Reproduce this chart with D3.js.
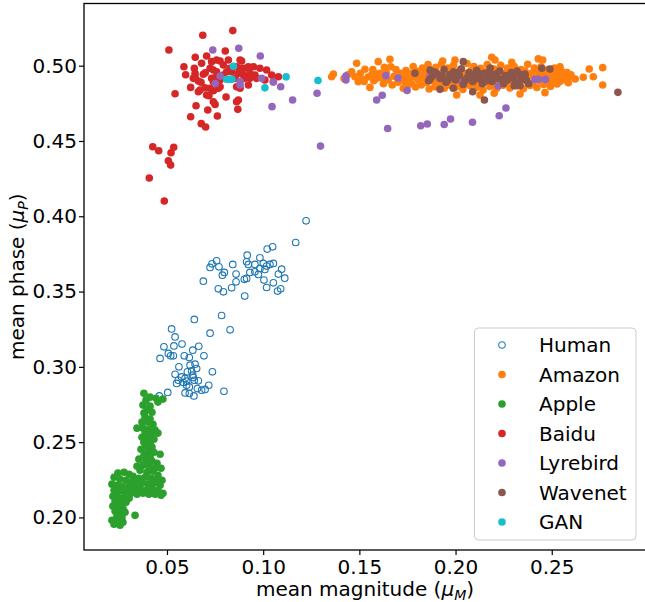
<!DOCTYPE html>
<html lang="en">
<head>
  <meta charset="UTF-8">
  <title>mean phase vs mean magnitude</title>
  <script src="https://cdn.jsdelivr.net/npm/d3@7"></script>
  <style>
    body {
      margin: 0;
      padding: 0;
      background: #fff;
    }
    svg text {
      font-family: "DejaVu Sans", sans-serif;
    }
  </style>
</head>
<body>
  <div id="chart"></div>

  <script>
    // values, [mean magnitude, mean phase]
    const human = [
      [0.1223,0.3970],[0.1169,0.3826],[0.1021,0.3782],[0.1049,0.3797],[0.0917,0.3742],[0.0983,0.3724],
      [0.0758,0.3704],[0.0734,0.3684],[0.0724,0.3660],[0.0770,0.3664],[0.0842,0.3680],[0.0914,0.3698],
      [0.0923,0.3680],[0.0957,0.3680],[0.1001,0.3687],[0.1018,0.3669],[0.1035,0.3680],[0.1053,0.3687],
      [0.0983,0.3654],[0.1009,0.3647],[0.1096,0.3649],[0.1079,0.3616],[0.0798,0.3627],[0.0788,0.3609],
      [0.0859,0.3616],[0.0931,0.3627],[0.0957,0.3631],[0.0975,0.3614],[0.0914,0.3587],[0.0902,0.3581],
      [0.1112,0.3589],[0.0689,0.3569],[0.0859,0.3565],[0.1004,0.3576],[0.1053,0.3558],[0.0767,0.3518],
      [0.0793,0.3498],[0.0836,0.3525],[0.1018,0.3527],[0.1075,0.3503],[0.1091,0.3518],[0.0904,0.3470],
      [0.0642,0.3315],[0.0784,0.3341],[0.0828,0.3246],[0.0724,0.3224],[0.0524,0.3252],[0.0542,0.3199],
      [0.0484,0.3133],[0.0536,0.3139],[0.0578,0.3151],[0.0634,0.3111],[0.0665,0.3137],[0.0507,0.3089],
      [0.0519,0.3073],[0.0533,0.3073],[0.0464,0.3056],[0.0590,0.3073],[0.0616,0.3062],[0.0692,0.3073],
      [0.0562,0.3000],[0.0620,0.3011],[0.0646,0.3018],[0.0654,0.2989],[0.0606,0.2967],[0.0628,0.2973],
      [0.0634,0.2945],[0.0542,0.2951],[0.0736,0.2967],[0.0576,0.2933],[0.0594,0.2923],[0.0602,0.2905],
      [0.0585,0.2896],[0.0559,0.2911],[0.0550,0.2890],[0.0637,0.2929],[0.0642,0.2911],[0.0663,0.2907],
      [0.0602,0.2878],[0.0616,0.2867],[0.0658,0.2856],[0.0680,0.2845],[0.0698,0.2850],[0.0717,0.2878],
      [0.0796,0.2838],[0.0594,0.2827],[0.0616,0.2823],[0.0640,0.2807],[0.0504,0.2830],[0.0460,0.2807]
    ];

    const amazon = [
      [0.1365,0.4945],[0.1356,0.4927],[0.1486,0.5016],[0.1598,0.5027],[0.1659,0.5043],[0.1664,0.4993],
      [0.1529,0.4976],[0.1460,0.4960],[0.1477,0.4927],[0.1494,0.4894],[0.1512,0.4910],[0.1555,0.4856],
      [0.1564,0.4938],[0.1590,0.4916],[0.1607,0.4950],[0.1671,0.4872],[0.1728,0.4850],[0.1933,0.5031],
      [0.1997,0.5038],[0.2188,0.5056],[0.2205,0.5038],[0.2292,0.5023],[0.2430,0.5045],[0.2453,0.5038],
      [0.2543,0.4993],[0.2574,0.4953],[0.2586,0.4887],[0.2622,0.4912],[0.2664,0.4923],[0.2695,0.4978],
      [0.2716,0.4927],[0.2765,0.4987],[0.2765,0.4872],[0.2006,0.4805],[0.2335,0.4812],[0.2465,0.4821],
      [0.2201,0.4817],[0.2127,0.4805],
      [0.1420,0.4915],[0.1440,0.4940],[0.1505,0.4950],[0.1525,0.4895],[0.1545,0.4925],[0.1575,0.4900],
      [0.1585,0.4945],[0.1615,0.4920],[0.1625,0.4880],[0.1640,0.4955],[0.1650,0.4905],[0.1680,0.4930],
      [0.1690,0.4975],[0.1700,0.4890],[0.1715,0.4950],[0.1630,0.4990],[0.1570,0.4975],
      [0.1730,0.4935],[0.1735,0.4895],[0.1742,0.4968],[0.1748,0.4862],[0.1755,0.4918],
      [0.1765,0.4948],[0.1772,0.4880],[0.1780,0.4995],[0.1786,0.4925],[0.1792,0.4858],
      [0.1801,0.4962],[0.1808,0.4903],[0.1815,0.4940],[0.1822,0.4872],[0.1828,0.4985],
      [0.1836,0.4920],[0.1843,0.4953],[0.1850,0.4888],[0.1857,0.5008],[0.1863,0.4845],
      [0.1871,0.4935],[0.1878,0.4970],[0.1885,0.4898],[0.1892,0.4860],[0.1898,0.4990],
      [0.1906,0.4915],[0.1913,0.4948],[0.1920,0.4878],[0.1927,0.5012],[0.1933,0.4930],
      [0.1941,0.4850],[0.1948,0.4965],[0.1955,0.4905],[0.1962,0.4985],[0.1968,0.4872],
      [0.1976,0.4940],[0.1983,0.4895],[0.1990,0.5005],[0.1997,0.4925],[0.2003,0.4858],
      [0.2011,0.4958],[0.2018,0.4885],[0.2025,0.4975],[0.2032,0.4918],[0.2038,0.4842],
      [0.2046,0.4950],[0.2053,0.4900],[0.2060,0.5015],[0.2067,0.4932],[0.2073,0.4868],
      [0.2081,0.4968],[0.2088,0.4890],[0.2095,0.4995],[0.2102,0.4922],[0.2108,0.4855],
      [0.2116,0.4945],[0.2123,0.4878],[0.2130,0.4982],[0.2137,0.4910],[0.2143,0.4838],
      [0.2151,0.4960],[0.2158,0.4895],[0.2165,0.5008],[0.2172,0.4930],[0.2178,0.4862],
      [0.2186,0.4950],[0.2193,0.4882],[0.2200,0.4978],[0.2207,0.4915],[0.2213,0.4848],
      [0.2221,0.4962],[0.2228,0.4900],[0.2235,0.5002],[0.2242,0.4935],[0.2248,0.4870],
      [0.2256,0.4948],[0.2263,0.4888],[0.2270,0.4985],[0.2277,0.4920],[0.2283,0.4852],
      [0.2291,0.4958],[0.2298,0.4895],[0.2305,0.4995],[0.2312,0.4928],[0.2318,0.4865],
      [0.2326,0.4942],[0.2333,0.4880],[0.2340,0.4975],[0.2347,0.4912],[0.2353,0.4848],
      [0.2361,0.4965],[0.2368,0.4898],[0.2375,0.5010],[0.2382,0.4932],[0.2388,0.4868],
      [0.2396,0.4950],[0.2403,0.4885],[0.2410,0.4985],[0.2417,0.4918],[0.2423,0.4855],
      [0.2431,0.4960],[0.2438,0.4902],[0.2445,0.4992],[0.2452,0.4935],[0.2458,0.4875],
      [0.2466,0.4945],[0.2473,0.4890],[0.2480,0.4975],[0.2487,0.4920],[0.2493,0.4862],
      [0.2501,0.4955],[0.2508,0.4900],[0.2515,0.4985],[0.2522,0.4930],[0.2528,0.4878],
      [0.2536,0.4948],[0.2543,0.4895],[0.2550,0.4965],[0.2557,0.4915],[0.2565,0.4935],
      [0.2572,0.4905],[0.2580,0.4955],[0.2590,0.4925],[0.2600,0.4940]
    ];

    const apple = [
      [0.0380,0.2825],[0.0412,0.2799],[0.0443,0.2792],[0.0479,0.2786],[0.0453,0.2766],[0.0391,0.2779],
      [0.0375,0.2746],[0.0412,0.2739],[0.0396,0.2713],[0.0380,0.2693],[0.0422,0.2699],[0.0386,0.2666],
      [0.0412,0.2653],[0.0370,0.2633],[0.0401,0.2633],[0.0427,0.2619],[0.0344,0.2593],[0.0375,0.2593],
      [0.0406,0.2586],[0.0438,0.2580],[0.0386,0.2560],[0.0417,0.2553],[0.0453,0.2560],[0.0370,0.2533],
      [0.0401,0.2527],[0.0432,0.2520],[0.0380,0.2500],[0.0412,0.2493],[0.0391,0.2474],[0.0422,0.2467],
      [0.0365,0.2453],[0.0401,0.2440],[0.0432,0.2433],[0.0464,0.2420],[0.0380,0.2413],[0.0412,0.2400],
      [0.0354,0.2387],[0.0391,0.2380],[0.0422,0.2374],[0.0448,0.2360],[0.0375,0.2347],[0.0406,0.2340],
      [0.0344,0.2340],[0.0438,0.2327],[0.0469,0.2327],[0.0360,0.2314],[0.0396,0.2300],[0.0427,0.2307],
      [0.0453,0.2280],
      [0.0323,0.2274],[0.0354,0.2260],[0.0386,0.2267],[0.0417,0.2260],[0.0448,0.2254],[0.0474,0.2247],
      [0.0339,0.2234],[0.0370,0.2227],[0.0401,0.2221],[0.0432,0.2227],[0.0464,0.2214],[0.0329,0.2194],
      [0.0360,0.2194],[0.0391,0.2181],[0.0422,0.2188],[0.0453,0.2181],[0.0479,0.2161],[0.0344,0.2154],
      [0.0375,0.2161],[0.0406,0.2154],[0.0438,0.2154],[0.0469,0.2148],
      [0.0245,0.2294],[0.0277,0.2300],[0.0303,0.2287],[0.0225,0.2267],[0.0256,0.2254],[0.0287,0.2247],
      [0.0313,0.2234],[0.0214,0.2221],[0.0240,0.2214],[0.0266,0.2207],[0.0297,0.2201],[0.0225,0.2181],
      [0.0251,0.2174],[0.0282,0.2168],[0.0313,0.2161],[0.0219,0.2141],[0.0245,0.2134],[0.0271,0.2128],
      [0.0303,0.2128],[0.0230,0.2108],[0.0256,0.2094],[0.0287,0.2101],[0.0219,0.2075],[0.0245,0.2068],
      [0.0271,0.2061],[0.0230,0.2041],[0.0256,0.2028],[0.0282,0.2034],[0.0240,0.2008],[0.0266,0.2001],
      [0.0214,0.1981],[0.0240,0.1975],[0.0271,0.1968],[0.0225,0.1955],[0.0256,0.1948],[0.0334,0.2014]
    ];

    const baidu = [
      [0.0686,0.5202],[0.0842,0.5233],[0.0510,0.5104],[0.0588,0.4993],[0.0597,0.4940],[0.0647,0.5056],
      [0.0803,0.5098],[0.0706,0.5064],[0.0758,0.5038],[0.0732,0.5027],[0.0776,0.5031],[0.0642,0.4983],
      [0.0646,0.4949],[0.0689,0.4943],[0.0699,0.4953],[0.0724,0.4983],[0.0741,0.4971],[0.0758,0.4960],
      [0.0793,0.5005],[0.0637,0.4916],[0.0663,0.4898],[0.0677,0.4890],[0.0732,0.4916],[0.0750,0.4920],
      [0.0793,0.4938],[0.0810,0.4960],[0.0623,0.4856],[0.0698,0.4854],[0.0672,0.4839],[0.0663,0.4827],
      [0.0724,0.4850],[0.0767,0.4850],[0.0741,0.4834],[0.0776,0.4860],[0.0542,0.4814],[0.0706,0.4805],
      [0.0718,0.4801],[0.0807,0.4792],[0.0741,0.4761],[0.0750,0.4743],[0.0651,0.4734],[0.0712,0.4706],
      [0.0623,0.4661],[0.0762,0.4666],[0.0678,0.4615],[0.0701,0.4593],[0.0819,0.5038],[0.0880,0.5038],
      [0.0888,0.5031],[0.0862,0.4993],[0.0905,0.4983],[0.0923,0.4993],[0.0949,0.4993],[0.0983,0.4983],
      [0.1018,0.4971],[0.0836,0.4960],[0.0871,0.4949],[0.0897,0.4938],[0.0931,0.4949],[0.0957,0.4938],
      [0.1044,0.4938],[0.1079,0.4927],[0.0854,0.4916],[0.0905,0.4916],[0.0931,0.4916],[0.0966,0.4916],
      [0.1009,0.4905],[0.0862,0.4860],[0.0880,0.4850],[0.0923,0.4872],[0.0871,0.4772],[0.0862,0.4761],
      [0.0868,0.4710],[0.1053,0.4894],[0.0426,0.4462],[0.0457,0.4435],[0.0535,0.4458],[0.0521,0.4422],
      [0.0507,0.4369],[0.0519,0.4340],[0.0408,0.4254],[0.0486,0.4101],[0.0680,0.5016],[0.0741,0.4894],
      [0.0646,0.4927],[0.0776,0.4905],[0.0827,0.4983],[0.0888,0.4983]
    ];

    const lyrebird = [
      [0.0738,0.5104],[0.0873,0.5116],[0.0985,0.5064],[0.0776,0.4932],[0.0751,0.4882],[0.0880,0.4894],
      [0.0880,0.4872],[0.0992,0.4916],[0.1053,0.4892],[0.1091,0.4860],[0.1046,0.4728],[0.1153,0.4772],
      [0.1280,0.4817],[0.1298,0.4466],[0.1430,0.4932],[0.1430,0.4905],[0.1638,0.4934],[0.1701,0.4918],
      [0.1748,0.4835],[0.1590,0.4772],[0.1619,0.4804],[0.1647,0.4583],[0.1819,0.4601],[0.1853,0.4613],
      [0.1941,0.4609],[0.1974,0.4646],[0.2088,0.4624],[0.1867,0.4927],[0.2023,0.4905],[0.2222,0.4865],
      [0.2262,0.4719],[0.2227,0.4668],[0.2413,0.4909],[0.2430,0.4909],[0.2467,0.4909]
    ];

    const wavenet = [
      [0.2040,0.5027],[0.1789,0.4949],[0.1867,0.4971],[0.1867,0.4910],[0.1919,0.4843],[0.2089,0.4827],
      [0.2150,0.4772],[0.2448,0.4983],[0.2491,0.4978],[0.2844,0.4823],[0.1988,0.4850],[0.2361,0.4945],
      [0.2335,0.4867],[0.2305,0.4867],
      [0.1900,0.4950],[0.1920,0.4915],[0.1940,0.4975],[0.1950,0.4890],[0.1970,0.4940],[0.1990,0.4960],
      [0.2000,0.4905],[0.2020,0.4935],[0.2030,0.4980],[0.2040,0.4875],[0.2060,0.4920],[0.2070,0.4955],
      [0.2090,0.4895],[0.2100,0.4940],[0.2110,0.4970],[0.2130,0.4910],[0.2140,0.4880],[0.2150,0.4950],
      [0.2170,0.4925],[0.2180,0.4985],[0.2190,0.4895],[0.2210,0.4945],[0.2220,0.4915],[0.2230,0.4965],
      [0.2250,0.4880],[0.2260,0.4935],[0.2270,0.4905],[0.2290,0.4955],[0.2300,0.4920],[0.2310,0.4890],
      [0.2330,0.4945],[0.2340,0.4910],[0.2360,0.4930],[0.1960,0.4905],[0.2010,0.4955],[0.2050,0.4900],
      [0.2080,0.4930],[0.2120,0.4950],[0.2160,0.4900],[0.2200,0.4930],[0.2240,0.4910],[0.2280,0.4935],
      [0.1930,0.4935],[0.1980,0.4925],[0.2115,0.4915],[0.2175,0.4960],[0.2320,0.4965],[0.1880,0.4930],
      [0.1890,0.4960],[0.2370,0.4900],[0.2380,0.4880],[0.1860,0.4900]
    ];

    const gan = [
      [0.0845,0.4996],[0.0810,0.4910],[0.0825,0.4910],[0.0838,0.4910],[0.1009,0.4853],[0.1119,0.4926],
      [0.1285,0.4902]
    ];

    const seriesNames = ["Human", "Amazon", "Apple", "Baidu", "Lyrebird", "Wavenet", "GAN"];
    const seriesColors = ["#1f77b4", "#ff7f0e", "#2ca02c", "#d62728", "#9467bd", "#8c564b", "#17becf"];
    const seriesData = [human, amazon, apple, baidu, lyrebird, wavenet, gan];

    const xTicks = [0.05, 0.10, 0.15, 0.20, 0.25];
    const yTicks = [0.20, 0.25, 0.30, 0.35, 0.40, 0.45, 0.50];

    const width = 645;
    const height = 602;
    const plot = { left: 84, right: 646, top: 3.5, bottom: 550 };

    const svg = d3.select("#chart")
      .append("svg")
      .attr("width", width)
      .attr("height", height);

    const x = d3.scaleLinear()
      .domain([0.00686, 0.2990])
      .range([plot.left, plot.right]);

    const y = d3.scaleLinear()
      .domain([0.17838, 0.5413])
      .range([plot.bottom, plot.top]);

    // points, drawn in legend order like the original
    seriesData.forEach((data, i) => {
      const open = seriesNames[i] === "Human";
      svg.append("g")
        .selectAll("circle")
        .data(data)
        .join("circle")
        .attr("cx", d => x(d[0]))
        .attr("cy", d => y(d[1]))
        .attr("r", open ? 3.3 : 3.8)
        .attr("fill", open ? "none" : seriesColors[i])
        .attr("stroke", open ? seriesColors[i] : "none")
        .attr("stroke-width", open ? 1.1 : 0);
    });

    // axes
    const xAxis = svg.append("g")
      .attr("transform", `translate(0,${plot.bottom})`)
      .call(d3.axisBottom(x).tickValues(xTicks).tickFormat(d3.format(".2f")).tickSize(5).tickPadding(5).tickSizeOuter(0));

    const yAxis = svg.append("g")
      .attr("transform", `translate(${plot.left},0)`)
      .call(d3.axisLeft(y).tickValues(yTicks).tickFormat(d3.format(".2f")).tickSize(5).tickPadding(2).tickSizeOuter(0));

    [xAxis, yAxis].forEach(a => {
      a.select(".domain").remove();
      a.selectAll("text").attr("font-size", 20).attr("fill", "#000").attr("font-family", "DejaVu Sans");
      a.selectAll("line").attr("stroke", "#000").attr("stroke-width", 1.2);
    });

    // spines
    svg.append("rect")
      .attr("x", plot.left)
      .attr("y", plot.top)
      .attr("width", plot.right - plot.left)
      .attr("height", plot.bottom - plot.top)
      .attr("fill", "none")
      .attr("stroke", "#000")
      .attr("stroke-width", 1.3);

    // axis labels
    const xLabel = svg.append("text")
      .attr("x", (plot.left + plot.right) / 2)
      .attr("y", 596)
      .attr("text-anchor", "middle")
      .attr("font-size", 20);
    xLabel.append("tspan").text("mean magnitude (");
    xLabel.append("tspan").attr("font-style", "italic").text("μ");
    xLabel.append("tspan").attr("font-style", "italic").attr("font-size", 14).attr("dy", 4).text("M");
    xLabel.append("tspan").attr("dy", -4).text(")");

    const yLabel = svg.append("text")
      .attr("transform", `translate(24,${(plot.top + plot.bottom) / 2}) rotate(-90)`)
      .attr("text-anchor", "middle")
      .attr("font-size", 20);
    yLabel.append("tspan").text("mean phase (");
    yLabel.append("tspan").attr("font-style", "italic").text("μ");
    yLabel.append("tspan").attr("font-style", "italic").attr("font-size", 14).attr("dy", 4).text("P");
    yLabel.append("tspan").attr("dy", -4).text(")");

    // legend
    const legend = svg.append("g");
    legend.append("rect")
      .attr("x", 474.5)
      .attr("y", 328)
      .attr("width", 161.5)
      .attr("height", 212)
      .attr("rx", 4)
      .attr("fill", "#fff")
      .attr("fill-opacity", 0.8)
      .attr("stroke", "#cccccc")
      .attr("stroke-width", 1);

    const rows = legend.selectAll("g.row")
      .data(seriesNames)
      .join("g")
      .attr("class", "row")
      .attr("transform", (d, i) => `translate(502,${345 + i * 29.5})`);

    rows.append("circle")
      .attr("r", (d, i) => i === 0 ? 3.3 : 3.8)
      .attr("fill", (d, i) => i === 0 ? "none" : seriesColors[i])
      .attr("stroke", (d, i) => i === 0 ? seriesColors[i] : "none")
      .attr("stroke-width", 1.1);

    rows.append("text")
      .attr("x", 37)
      .attr("dy", "0.35em")
      .attr("font-size", 20)
      .attr("fill", "#000")
      .text(d => d);
  </script>
</body>
</html>
